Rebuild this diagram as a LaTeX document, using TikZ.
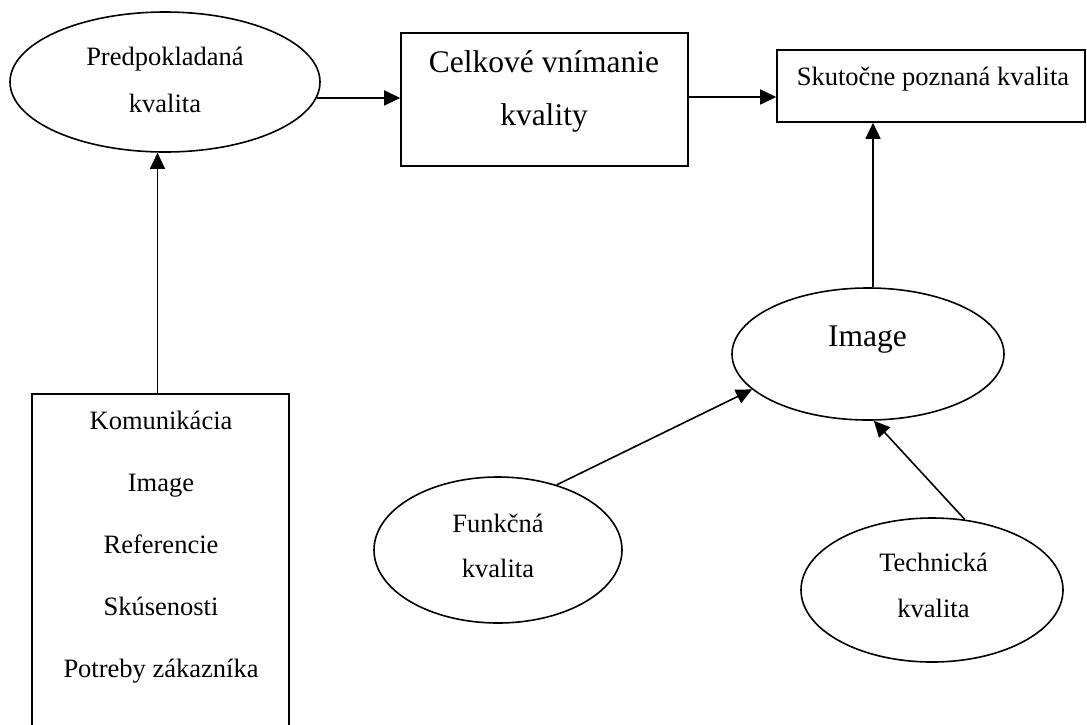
\documentclass[tikz,border=0pt]{standalone}
\usepackage{fontspec}
\setmainfont{Liberation Serif}
\usetikzlibrary{shapes.geometric, arrows.meta}

\begin{document}
\begin{tikzpicture}[x = 1pt, y = -1pt,
	box/.style = {draw, line width = 1.6pt, inner sep = 0pt},
	oval/.style = {draw, ellipse, line width = 1.6pt, inner sep = 0pt},
	txt/.style = {anchor = base, inner sep = 0pt, font = \fontsize{26.5}{30}\selectfont},
	bigtxt/.style = {txt, font = \fontsize{31.5}{36}\selectfont},
	arr/.style = {line width = 1.6pt, -{Triangle[length = 16pt, width = 15pt]}}]

	\useasboundingbox (0, 0) rectangle (1087, 724);
	\clip (0, 0) rectangle (1087, 724);

	% Boxes and ellipses
	
	\node (pred) [oval, minimum width = 310, minimum height = 140] at (165, 82) {};
	\node (celk) [box, minimum width = 287, minimum height = 133] at (544.5, 99.5) {};
	\node (skut) [box, minimum width = 308, minimum height = 72] at (931, 86) {};
	\node (image) [oval, minimum width = 272, minimum height = 132] at (868, 354) {};
	\node (list) [box, minimum width = 257, minimum height = 346] at (160.5, 567) {};
	\node (funk) [oval, minimum width = 248, minimum height = 146] at (498, 550) {};
	\node (tech) [oval, minimum width = 262, minimum height = 144] at (932, 590) {};
	
	% Texts
	
	\node (pred-1) [txt] at (165, 65) {Predpokladaná};
	\node (pred-2) [txt] at (165, 112) {kvalita};
	\node (celk-1) [bigtxt] at (544, 72) {Celkové vnímanie};
	\node (celk-2) [bigtxt] at (544, 125) {kvality};
	\node (skut-1) [txt] at (933, 85) {Skutočne poznaná kvalita};
	\node (image-1) [bigtxt] at (867.5, 346) {Image};
	\node (funk-1) [txt] at (498, 532) {Funkčná};
	\node (funk-2) [txt] at (498, 577) {kvalita};
	\node (tech-1) [txt] at (933.5, 571) {Technická};
	\node (tech-2) [txt] at (933.5, 617) {kvalita};
	
	\foreach \word [count = \i] in {Komunikácia, Image, Referencie, Skúsenosti, Potreby zákazníka}
		\node (list-\i) [txt] at (161, 367 + 62 * \i) {\word};
	
	% Arrows
	
	\draw [arr] (pred.-6) -- (pred.-6 -| celk.west);
	\draw [arr] ([yshift = 2.5pt] celk.east) -- ([yshift = 2.5pt] celk.east -| skut.west);
	\draw [arr] ([xshift = 5pt] image.north) -- ([xshift = 5pt] image.north |- skut.south);
	\draw [arr] ([xshift = -3pt] list.north) -- ([xshift = -3pt] list.north |- pred.south);
	\draw [arr] (funk.48) -- (image.197);
	\draw [arr] (tech.65) -- (image.-85);

\end{tikzpicture}
\end{document}
